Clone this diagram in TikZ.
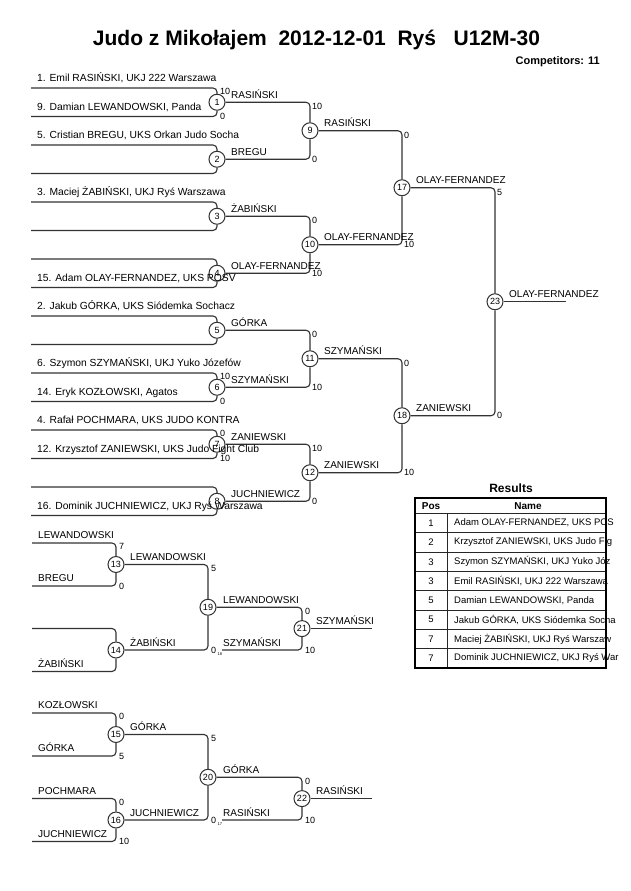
\documentclass[tikz,border=0pt]{standalone}
\usepackage{fontspec}
\setmainfont{Liberation Sans}
\newcommand{\fsz}[1]{\fontsize{#1}{#1}\selectfont}

\begin{document}
\begin{tikzpicture}[x=1pt,y=-1pt]
        \tikzstyle{every node}+=[inner sep=0pt]
        \tikzstyle{fight}=[circle,draw=black!80,line width=1pt,fill=white,minimum size=16pt,font=\fsz{9}]
        \tikzstyle{entrant}=[anchor=base west,font=\fsz{10.3}]
        \tikzstyle{winner}=[anchor=base west,font=\fsz{10}]
        \tikzstyle{ptop}=[anchor=north west,font=\fsz{9}]
        \tikzstyle{pbot}=[anchor=west,font=\fsz{9}]
        \tikzstyle{src}=[anchor=west,font=\fsz{4}]
        \tikzstyle{bline}=[draw=black!80,line width=1.1pt,rounded corners=4pt]
        \tikzstyle{cell}=[draw=black!85,line width=1pt]
        \tikzstyle{row}=[anchor=west,font=\fsz{9.5}]
        \useasboundingbox (0,0) rectangle (630,891);
        \fill [white] (0,0) rectangle (630,891);
        \node [font=\fsz{21}\bfseries,anchor=base] (title) at (316.5,45.5) {Judo z Mikołajem\ \ 2012-12-01\ \ Ryś\ \ \ U12M-30};
        \node [font=\fsz{11}\bfseries,anchor=base east] (count) at (600,65) {Competitors: 11};
        \node [fight] (m1) at (217,102.25) {1};
        \node [fight] (m2) at (217,159.25) {2};
        \node [fight] (m3) at (217,216.25) {3};
        \node [fight] (m4) at (217,273.25) {4};
        \node [fight] (m5) at (217,330.25) {5};
        \node [fight] (m6) at (217,387.25) {6};
        \node [fight] (m7) at (217,444.25) {7};
        \node [fight] (m8) at (217,501.25) {8};
        \node [fight] (m9) at (310,130.75) {9};
        \node [fight] (m10) at (310,244.75) {10};
        \node [fight] (m11) at (310,358.75) {11};
        \node [fight] (m12) at (310,472.75) {12};
        \node [fight] (m17) at (402,187.75) {17};
        \node [fight] (m18) at (402,415.75) {18};
        \node [fight] (m23) at (495,301.75) {23};
        \coordinate (p1) at (31,88);
        \coordinate (p2) at (31,116.5);
        \coordinate (p3) at (31,145);
        \coordinate (p4) at (31,173.5);
        \coordinate (p5) at (31,202);
        \coordinate (p6) at (31,230.5);
        \coordinate (p7) at (31,259);
        \coordinate (p8) at (31,287.5);
        \coordinate (p9) at (31,316);
        \coordinate (p10) at (31,344.5);
        \coordinate (p11) at (31,373);
        \coordinate (p12) at (31,401.5);
        \coordinate (p13) at (31,430);
        \coordinate (p14) at (31,458.5);
        \coordinate (p15) at (31,487);
        \coordinate (p16) at (31,515.5);
        \coordinate (f23) at (566,301.75);
        \draw [bline] (p1) -| (m1);
        \draw [bline] (p2) -| (m1);
        \draw [bline] (p3) -| (m2);
        \draw [bline] (p4) -| (m2);
        \draw [bline] (p5) -| (m3);
        \draw [bline] (p6) -| (m3);
        \draw [bline] (p7) -| (m4);
        \draw [bline] (p8) -| (m4);
        \draw [bline] (p9) -| (m5);
        \draw [bline] (p10) -| (m5);
        \draw [bline] (p11) -| (m6);
        \draw [bline] (p12) -| (m6);
        \draw [bline] (p13) -| (m7);
        \draw [bline] (p14) -| (m7);
        \draw [bline] (p15) -| (m8);
        \draw [bline] (p16) -| (m8);
        \draw [bline] (m1) -| (m9);
        \draw [bline] (m2) -| (m9);
        \draw [bline] (m3) -| (m10);
        \draw [bline] (m4) -| (m10);
        \draw [bline] (m5) -| (m11);
        \draw [bline] (m6) -| (m11);
        \draw [bline] (m7) -| (m12);
        \draw [bline] (m8) -| (m12);
        \draw [bline] (m9) -| (m17);
        \draw [bline] (m10) -| (m17);
        \draw [bline] (m11) -| (m18);
        \draw [bline] (m12) -| (m18);
        \draw [bline] (m17) -| (m23);
        \draw [bline] (m18) -| (m23);
        \draw [bline] (m23) -- (f23);
        \node [entrant] (n1) at (37,81.5) {1. Emil RASIŃSKI, UKJ 222 Warszawa};
        \node [entrant] (n9) at (37,110) {9. Damian LEWANDOWSKI, Panda};
        \node [entrant] (n5) at (37,138.5) {5. Cristian BREGU, UKS Orkan Judo Socha};
        \node [entrant] (n3) at (37,195.5) {3. Maciej ŻABIŃSKI, UKJ Ryś Warszawa};
        \node [entrant] (n15) at (37,281) {15. Adam OLAY-FERNANDEZ, UKS POSV};
        \node [entrant] (n2) at (37,309.5) {2. Jakub GÓRKA, UKS Siódemka Sochacz};
        \node [entrant] (n6) at (37,366.5) {6. Szymon SZYMAŃSKI, UKJ Yuko Józefów};
        \node [entrant] (n14) at (37,395) {14. Eryk KOZŁOWSKI, Agatos};
        \node [entrant] (n4) at (37,423.5) {4. Rafał POCHMARA, UKS JUDO KONTRA};
        \node [entrant] (n12) at (37,452) {12. Krzysztof ZANIEWSKI, UKS Judo Fight Club};
        \node [entrant] (n16) at (37,509) {16. Dominik JUCHNIEWICZ, UKJ Ryś Warszawa};
        \node [winner] (w1) at (231,98.25) {RASIŃSKI};
        \node [winner] (w2) at (231,155.25) {BREGU};
        \node [winner] (w3) at (231,212.25) {ŻABIŃSKI};
        \node [winner] (w4) at (231,269.25) {OLAY-FERNANDEZ};
        \node [winner] (w5) at (231,326.25) {GÓRKA};
        \node [winner] (w6) at (231,383.25) {SZYMAŃSKI};
        \node [winner] (w7) at (231,440.25) {ZANIEWSKI};
        \node [winner] (w8) at (231,497.25) {JUCHNIEWICZ};
        \node [winner] (w9) at (324,126.75) {RASIŃSKI};
        \node [winner] (w10) at (324,240.75) {OLAY-FERNANDEZ};
        \node [winner] (w11) at (324,354.75) {SZYMAŃSKI};
        \node [winner] (w12) at (324,468.75) {ZANIEWSKI};
        \node [winner] (w17) at (416,183.75) {OLAY-FERNANDEZ};
        \node [winner] (w18) at (416,411.75) {ZANIEWSKI};
        \node [winner] (w23) at (509,297.75) {OLAY-FERNANDEZ};
        \node [ptop] (s1a) at (220,88.5) {10};
        \node [pbot] (s1b) at (220,116.5) {0};
        \node [ptop] (s6a) at (220,373.5) {10};
        \node [pbot] (s6b) at (220,401.5) {0};
        \node [ptop] (s7a) at (220,430.5) {0};
        \node [pbot] (s7b) at (220,458.5) {10};
        \node [ptop] (s9a) at (312,103.25) {10};
        \node [pbot] (s9b) at (312,159.25) {0};
        \node [ptop] (s10a) at (312,217.25) {0};
        \node [pbot] (s10b) at (312,273.25) {10};
        \node [ptop] (s11a) at (312,331.25) {0};
        \node [pbot] (s11b) at (312,387.25) {10};
        \node [ptop] (s12a) at (312,445.25) {10};
        \node [pbot] (s12b) at (312,501.25) {0};
        \node [ptop] (s17a) at (404,131.75) {0};
        \node [pbot] (s17b) at (404,244.75) {10};
        \node [ptop] (s18a) at (404,359.75) {0};
        \node [pbot] (s18b) at (404,472.75) {10};
        \node [ptop] (s23a) at (497,188.75) {5};
        \node [pbot] (s23b) at (497,415.75) {0};
        \node [fight] (m13) at (116,564.5) {13};
        \node [fight] (m14) at (116,650) {14};
        \node [fight] (m19) at (208,607.25) {19};
        \node [fight] (m21) at (302,628.6) {21};
        \node [fight] (m15) at (116,734.5) {15};
        \node [fight] (m16) at (116,820) {16};
        \node [fight] (m20) at (208,777.25) {20};
        \node [fight] (m22) at (302,798.6) {22};
        \coordinate (r1) at (32,543);
        \coordinate (r2) at (32,586);
        \coordinate (r3) at (32,628.5);
        \coordinate (r4) at (32,671.5);
        \coordinate (r5) at (32,713);
        \coordinate (r6) at (32,756);
        \coordinate (r7) at (32,798.5);
        \coordinate (r8) at (32,841.5);
        \coordinate (q18) at (222,650);
        \coordinate (q17) at (222,820);
        \coordinate (f21) at (372,628.6);
        \coordinate (f22) at (372,798.6);
        \draw [bline] (r1) -| (m13);
        \draw [bline] (r2) -| (m13);
        \draw [bline] (r3) -| (m14);
        \draw [bline] (r4) -| (m14);
        \draw [bline] (m13) -| (m19);
        \draw [bline] (m14) -| (m19);
        \draw [bline] (m19) -| (m21);
        \draw [bline] (q18) -| (m21);
        \draw [bline] (m21) -- (f21);
        \draw [bline] (r5) -| (m15);
        \draw [bline] (r6) -| (m15);
        \draw [bline] (r7) -| (m16);
        \draw [bline] (r8) -| (m16);
        \draw [bline] (m15) -| (m20);
        \draw [bline] (m16) -| (m20);
        \draw [bline] (m20) -| (m22);
        \draw [bline] (q17) -| (m22);
        \draw [bline] (m22) -- (f22);
        \node [winner] (k1) at (38,538.5) {LEWANDOWSKI};
        \node [winner] (k2) at (38,581.5) {BREGU};
        \node [winner] (k4) at (38,667) {ŻABIŃSKI};
        \node [winner] (k5) at (38,708.5) {KOZŁOWSKI};
        \node [winner] (k6) at (38,751.5) {GÓRKA};
        \node [winner] (k7) at (38,794) {POCHMARA};
        \node [winner] (k8) at (38,837) {JUCHNIEWICZ};
        \node [winner] (w13) at (130,560.5) {LEWANDOWSKI};
        \node [winner] (w14) at (130,646) {ŻABIŃSKI};
        \node [winner] (w19) at (223,603.25) {LEWANDOWSKI};
        \node [winner] (l18) at (223,646) {SZYMAŃSKI};
        \node [winner] (w21) at (316,624.6) {SZYMAŃSKI};
        \node [winner] (w15) at (130,730.5) {GÓRKA};
        \node [winner] (w16) at (130,816) {JUCHNIEWICZ};
        \node [winner] (w20) at (223,773.25) {GÓRKA};
        \node [winner] (l17) at (223,816) {RASIŃSKI};
        \node [winner] (w22) at (316,794.6) {RASIŃSKI};
        \node [ptop] (s13a) at (119,543.5) {7};
        \node [pbot] (s13b) at (119,586) {0};
        \node [ptop] (s19a) at (211,565.5) {5};
        \node [pbot] (s19b) at (211,650) {0};
        \node [src] (o18) at (217.5,654) {18};
        \node [ptop] (s21a) at (305,608.25) {0};
        \node [pbot] (s21b) at (305,650) {10};
        \node [ptop] (s15a) at (119,713.5) {0};
        \node [pbot] (s15b) at (119,756) {5};
        \node [ptop] (s16a) at (119,799) {0};
        \node [pbot] (s16b) at (119,841.5) {10};
        \node [ptop] (s20a) at (211,735.5) {5};
        \node [pbot] (s20b) at (211,820) {0};
        \node [src] (o17) at (217.5,824) {17};
        \node [ptop] (s22a) at (305,778.25) {0};
        \node [pbot] (s22b) at (305,820) {10};
        \node [font=\fsz{12}\bfseries] (res) at (511,488) {Results};
        \draw [cell] (415,513.5) -- (606,513.5);
        \draw [cell] (415,532.8) -- (606,532.8);
        \draw [cell] (415,552.1) -- (606,552.1);
        \draw [cell] (415,571.4) -- (606,571.4);
        \draw [cell] (415,590.7) -- (606,590.7);
        \draw [cell] (415,610) -- (606,610);
        \draw [cell] (415,629.3) -- (606,629.3);
        \draw [cell] (415,648.6) -- (606,648.6);
        \draw [cell] (447,513.5) -- (447,668);
        \draw [line width=2pt] (415,498) rectangle (606,668);
        \node [font=\fsz{10}\bfseries] (hpos) at (431,506) {Pos};
        \node [font=\fsz{10}\bfseries] (hname) at (528,506) {Name};
        \node [font=\fsz{9.5}] (t1) at (431,523.15) {1};
        \node [font=\fsz{9.5}] (t2) at (431,542.45) {2};
        \node [font=\fsz{9.5}] (t3) at (431,561.75) {3};
        \node [font=\fsz{9.5}] (t4) at (431,581.05) {3};
        \node [font=\fsz{9.5}] (t5) at (431,600.35) {5};
        \node [font=\fsz{9.5}] (t6) at (431,619.65) {5};
        \node [font=\fsz{9.5}] (t7) at (431,638.95) {7};
        \node [font=\fsz{9.5}] (t8) at (431,658.25) {7};
        \begin{scope}
        \clip (0,0) rectangle (630,891);
        \node [row] (u1) at (454,523.15) {Adam OLAY-FERNANDEZ, UKS PCS};
        \node [row] (u2) at (454,542.45) {Krzysztof ZANIEWSKI, UKS Judo Fig};
        \node [row] (u3) at (454,561.75) {Szymon SZYMAŃSKI, UKJ Yuko Józ};
        \node [row] (u4) at (454,581.05) {Emil RASIŃSKI, UKJ 222 Warszawa};
        \node [row] (u5) at (454,600.35) {Damian LEWANDOWSKI, Panda};
        \node [row] (u6) at (454,619.65) {Jakub GÓRKA, UKS Siódemka Socha};
        \node [row] (u7) at (454,638.95) {Maciej ŻABIŃSKI, UKJ Ryś Warszaw};
        \node [row] (u8) at (454,658.25) {Dominik JUCHNIEWICZ, UKJ Ryś War};
        \end{scope}
\end{tikzpicture}
\end{document}
